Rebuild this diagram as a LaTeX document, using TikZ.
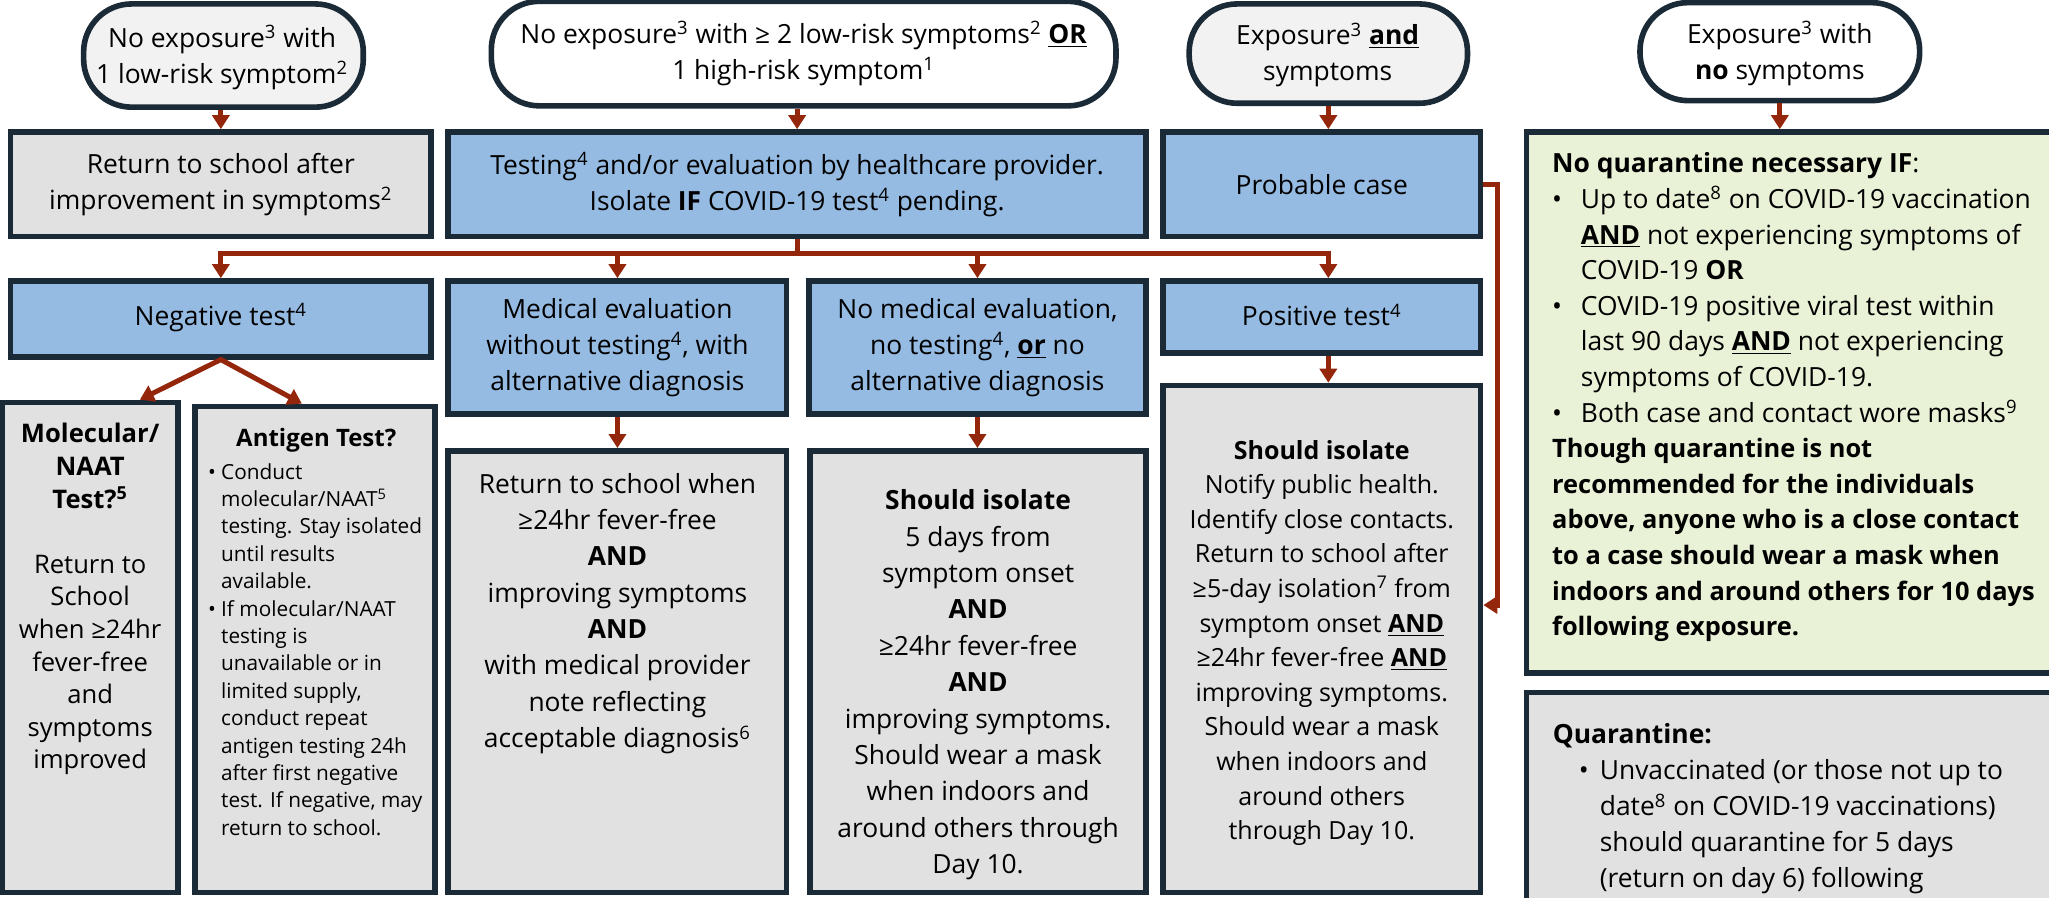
\documentclass[tikz,border=0pt]{standalone}
\usepackage{fontspec}
\setmainfont{Open Sans}
\usetikzlibrary{arrows.meta,fit,calc}
\definecolor{boxline}{RGB}{27,42,55}
\definecolor{boxblue}{RGB}{149,187,227}
\definecolor{boxgray}{RGB}{225,225,225}
\definecolor{ovalgray}{RGB}{242,242,242}
\definecolor{boxgreen}{RGB}{233,241,214}
\definecolor{flowred}{RGB}{148,38,12}
\newcommand{\sups}[1]{\textsuperscript{#1}}
\newcommand{\ulb}[1]{\underline{\textbf{#1}}}
\newcommand{\blt}{\makebox[14.4pt][l]{\textbullet}}
\newcommand{\boldsmall}{\bfseries\fontsize{12.7}{17.8}\selectfont}

\begin{document}
\begin{tikzpicture}[>={Triangle[width=8.5pt,length=7pt]}, x=0.6534pt, y=-0.6534pt,
    box/.style={draw=boxline, line width=2.8pt, inner sep=0pt},
    oval/.style={box, rounded corners=24pt},
    txt/.style={font=\fontsize{13.2}{18}\selectfont, align=center, inner sep=0pt},
    feed/.style={draw=flowred, line width=2.5pt},
    flow/.style={->, feed}]
  \useasboundingbox (0,0) rectangle (1568,687);
  \clip (0,0) rectangle (1568,687);

  \node[oval, fill=ovalgray, fit={(64,3) (278,82)}] (o1) {};
  \node[oval, fill=white, fit={(376,1) (854,81)}] (o2) {};
  \node[oval, fill=ovalgray, fit={(910,3) (1123,79)}] (o3) {};
  \node[oval, fill=white, fit={(1255,2) (1469,77)}] (o4) {};
  \node[box, fill=boxgray, fit={(8,101) (330,181)}] (ret) {};
  \node[box, fill=boxblue, fit={(343,101) (877,181)}] (test) {};
  \node[box, fill=boxblue, fit={(890,101) (1133,181)}] (prob) {};
  \node[box, fill=boxblue, fit={(8,215) (330,273)}] (neg) {};
  \node[box, fill=boxblue, fit={(343,215) (602,317)}] (med) {};
  \node[box, fill=boxblue, fit={(619,215) (877,317)}] (nomed) {};
  \node[box, fill=boxblue, fit={(890,215) (1133,270)}] (pos) {};
  \node[box, fill=boxgray, fit={(2,308) (136,683)}] (mol) {};
  \node[box, fill=boxgray, fit={(149,311) (333,683)}] (ant) {};
  \node[box, fill=boxgray, fit={(343,345) (602,683)}] (retw) {};
  \node[box, fill=boxgray, fit={(620,345) (877,683)}] (iso) {};
  \node[box, fill=boxgray, fit={(890,295) (1133,683)}] (posiso) {};
  \node[box, fill=boxgreen, fit={(1168,101) (1590,515)}] (green) {};
  \node[box, fill=boxgray, fit={(1168,530) (1590,700)}] (quar) {};

  \node[txt] (o1T) at (170,44) {No exposure\sups{3} with\\1 low-risk symptom\sups{2}};
  \node[txt] (o2T) at (o2.center) {No exposure\sups{3} with ≥ 2 low-risk symptoms\sups{2} \ulb{OR}\\1 high-risk symptom\sups{1}};
  \node[txt] (o3T) at (1016,42) {Exposure\sups{3} \ulb{and}\\symptoms};
  \node[txt] (o4T) at (1362,41) {Exposure\sups{3} with\\\textbf{no} symptoms};
  \node[txt] (retT) at (ret.center) {Return to school after\\improvement in symptoms\sups{2}};
  \node[txt] (testT) at (test.center) {Testing\sups{4} and/or evaluation by healthcare provider.\\Isolate \textbf{IF} COVID-19 test\sups{4} pending.};
  \node[txt] (probT) at (prob.center) {Probable case};
  \node[txt] (negT) at (169,243) {Negative test\sups{4}};
  \node[txt] (medT) at (med.center) {Medical evaluation\\without testing\sups{4}, with\\alternative diagnosis};
  \node[txt] (nomedT) at (nomed.center) {No medical evaluation,\\no testing\sups{4}, \ulb{or} no\\alternative diagnosis};
  \node[txt] (posT) at (1011.5,241) {Positive test\sups{4}};

  \node[txt, font=\fontsize{12.8}{16.3}\selectfont] (molT) at (69,458.5) {\textbf{Molecular/}\\\textbf{NAAT}\\\textbf{Test?\sups{5}}\\[16.3pt]Return to\\School\\when ≥24hr\\fever-free\\and\\symptoms\\improved};
  \node[txt, font=\bfseries\fontsize{12}{14}\selectfont] (antT) at (242,337) {Antigen Test?};
  \node[txt, font=\fontsize{10.4}{13.7}\selectfont, align=left, anchor=west] (antB) at (159,497) {\makebox[6.5pt][l]{\textbullet}Conduct\\\hspace*{6.5pt}molecular/NAAT\sups{5}\\\hspace*{6.5pt}testing. Stay isolated\\\hspace*{6.5pt}until results\\\hspace*{6.5pt}available.\\\makebox[6.5pt][l]{\textbullet}If molecular/NAAT\\\hspace*{6.5pt}testing is\\\hspace*{6.5pt}unavailable or in\\\hspace*{6.5pt}limited supply,\\\hspace*{6.5pt}conduct repeat\\\hspace*{6.5pt}antigen testing 24h\\\hspace*{6.5pt}after first negative\\\hspace*{6.5pt}test. If negative, may\\\hspace*{6.5pt}return to school.};
  \node[txt, font=\fontsize{13.2}{18.2}\selectfont] (retwT) at (472.5,469.5) {Return to school when\\≥24hr fever-free\\\textbf{AND}\\improving symptoms\\\textbf{AND}\\with medical provider\\note reflecting\\acceptable diagnosis\sups{6}};
  \node[txt, font=\fontsize{13.2}{18.2}\selectfont] (isoT) at (748.5,524) {\textbf{Should isolate}\\5 days from\\symptom onset\\\textbf{AND}\\≥24hr fever-free\\\textbf{AND}\\improving symptoms.\\Should wear a mask\\when indoors and\\around others through\\Day 10.};
  \node[txt, font=\fontsize{12.5}{17.3}\selectfont] (posisoT) at (1011.5,492) {\textbf{Should isolate}\\Notify public health.\\Identify close contacts.\\Return to school after\\≥5-day isolation\sups{7} from\\symptom onset \ulb{AND}\\≥24hr fever-free \ulb{AND}\\improving symptoms.\\Should wear a mask\\when indoors and\\around others\\through Day 10.};
  \node[txt, font=\fontsize{13.2}{17.8}\selectfont, align=left, anchor=west] (greenT) at (1187.5,304) {\textbf{No quarantine necessary IF}:\\\blt Up to date\sups{8} on COVID-19 vaccination\\\hspace*{14.4pt}\ulb{AND} not experiencing symptoms of\\\hspace*{14.4pt}COVID-19 \textbf{OR}\\\blt COVID-19 positive viral test within\\\hspace*{14.4pt}last 90 days \ulb{AND} not experiencing\\\hspace*{14.4pt}symptoms of COVID-19.\\\blt Both case and contact wore masks\sups{9}\\{\boldsmall Though quarantine is not}\\{\boldsmall recommended for the individuals}\\{\boldsmall above, anyone who is a close contact}\\{\boldsmall to a case should wear a mask when}\\{\boldsmall indoors and around others for 10 days}\\{\boldsmall following exposure.}};
  \node[txt, font=\fontsize{13.2}{18}\selectfont, align=left, anchor=west] (quarT) at (1188,619) {\textbf{Quarantine:}\\\hspace*{13pt}\makebox[10.5pt][l]{\textbullet}Unvaccinated (or those not up to\\\hspace*{23.5pt}date\sups{8} on COVID-19 vaccinations)\\\hspace*{23.5pt}should quarantine for 5 days\\\hspace*{23.5pt}(return on day 6) following};

  \draw[flow] (o1.south -| ret.north) -- (ret.north);
  \draw[flow] (o2.south -| test.north) -- (test.north);
  \draw[flow] (o3.south) -- (o3.south |- prob.north);
  \draw[flow] (o4.south) -- (o4.south |- green.north);
  \coordinate (bus) at (610,194);
  \draw[feed] (test.south) -- (bus);
  \draw[<->, feed] (neg.north) -- (neg.north |- bus) -- (o3.south |- bus) -- (o3.south |- pos.north);
  \foreach \n in {med,nomed}
    \draw[flow] (\n.north |- bus) -- (\n.north);
  \draw[<->, feed] ($(mol.north)+(38,0)$) -- (neg.south) -- ($(ant.north)+(-10,0)$);
  \draw[flow] (med.south) -- (med.south |- retw.north);
  \draw[flow] (nomed.south) -- (nomed.south |- iso.north);
  \draw[flow] (o3.south |- pos.south) -- (o3.south |- posiso.north);
  \coordinate (bend) at (1146,463);
  \draw[flow] (prob.east) -| (bend) -- (posiso.east |- bend);
\end{tikzpicture}
\end{document}
